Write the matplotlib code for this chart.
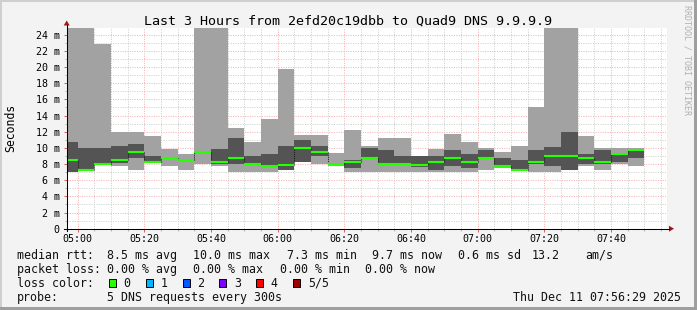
import matplotlib
matplotlib.use("Agg")
import matplotlib.pyplot as plt
from matplotlib.lines import Line2D
from matplotlib.patches import Polygon, Rectangle
from matplotlib.ticker import FixedLocator, MultipleLocator

W, H = 697, 310
MONO = "DejaVu Sans Mono"

TITLE = "Last 3 Hours from 2efd20c19dbb to Quad9 DNS 9.9.9.9"

# 5-minute rounds, each with 5 pings sorted low..high (seconds, in ms units)
ROUND_START = ["04:55", "05:00", "05:05", "05:10", "05:15", "05:20", "05:25",
               "05:30", "05:35", "05:40", "05:45", "05:50", "05:55", "06:00",
               "06:05", "06:10", "06:15", "06:20", "06:25", "06:30", "06:35",
               "06:40", "06:45", "06:50", "06:55", "07:00", "07:05", "07:10",
               "07:15", "07:20", "07:25", "07:30", "07:35", "07:40", "07:45"]
PING_MIN = [7.0, 7.2, 7.95, 7.8, 7.25, 8.1, 7.75, 7.25, 8.05, 7.75, 7.0, 7.0,
            7.0, 7.25, 8.2, 8.0, 7.75, 7.0, 7.0, 7.0, 7.0, 7.0, 7.0, 7.0,
            7.0, 7.25, 7.5, 7.25, 7.0, 7.0, 7.25, 7.75, 7.25, 8.0, 7.75]
PING_LOW = [7.05, 7.25, 7.95, 8.1, 8.8, 8.2, 8.6, 8.4, 9.4, 8.0, 8.0, 7.9,
            7.7, 7.25, 8.25, 9.0, 7.85, 7.5, 8.6, 7.95, 7.95, 7.6, 7.25, 7.75,
            7.5, 8.6, 7.7, 7.25, 8.0, 7.75, 7.25, 8.0, 8.0, 8.25, 8.75]
MEDIAN = [8.5, 7.3, 8.0, 8.5, 9.5, 8.25, 8.75, 8.5, 9.5, 8.25, 8.75, 8.0,
          7.75, 7.9, 10.0, 9.5, 8.0, 8.25, 8.75, 8.0, 8.0, 7.9, 8.25, 8.75,
          8.25, 8.75, 7.75, 7.25, 8.25, 9.0, 9.0, 8.75, 8.25, 9.25, 9.75]
PING_HIGH = [10.7, 10.0, 10.0, 10.2, 10.5, 9.0, 8.9, 8.6, 9.6, 9.85, 11.2, 9.0,
             9.25, 10.2, 10.95, 10.2, 8.1, 8.5, 10.0, 9.75, 9.0, 9.0, 9.0, 9.75,
             9.25, 9.75, 8.75, 8.5, 9.75, 10.1, 11.95, 9.25, 9.75, 9.3, 9.9]
PING_MAX = [26.0, 26.0, 22.85, 12.0, 12.0, 11.5, 9.8, 9.3, 26.0, 26.0, 12.45, 10.7,
            13.55, 19.75, 11.6, 11.6, 9.35, 12.2, 10.25, 11.2, 11.2, 9.0, 9.85, 11.7,
            10.7, 10.0, 9.5, 10.25, 15.0, 26.0, 26.0, 11.5, 10.0, 10.0, 10.0]

X_TICKS = ["05:00", "05:20", "05:40", "06:00", "06:20", "06:40", "07:00", "07:20", "07:40"]
Y_TICKS = [0, 2, 4, 6, 8, 10, 12, 14, 16, 18, 20, 22, 24]
Y_TICK_LABELS = ["0", "2 m", "4 m", "6 m", "8 m", "10 m", "12 m", "14 m",
                 "16 m", "18 m", "20 m", "22 m", "24 m"]

RTT_ROW = ["median rtt:", "8.5 ms avg", "10.0 ms max", "7.3 ms min",
           "9.7 ms now", "0.6 ms sd", "13.2", "am/s"]
LOSS_ROW = ["packet loss:", "0.00 % avg", "0.00 % max", "0.00 % min", "0.00 % now"]
LOSS_LABELS = ["0", "1", "2", "3", "4", "5/5"]
LOSS_COLORS = ["#26ff00", "#00b8ff", "#0059ff", "#7e00ff", "#ff0000", "#a00000"]
PROBE_ROW = ["probe:", "5 DNS requests every 300s"]
STAMP = "Thu Dec 11 07:56:29 2025"

STEP = 5


def minutes(hhmm):
    h, m = hhmm.split(":")
    return int(h) * 60 + int(m) - 300


def fx(x):
    return x / W


def fy(y):
    return 1 - y / H


fig = plt.figure(figsize=(W / 100, H / 100), dpi=100, facecolor="#f3f3f3")

# shaded frame
fig.add_artist(Rectangle((0, 0), fx(2), 1, transform=fig.transFigure, color="#cfcfcf", lw=0))
fig.add_artist(Rectangle((0, fy(2)), 1, 2 / H, transform=fig.transFigure, color="#cfcfcf", lw=0))
fig.add_artist(Rectangle((fx(694), 0), fx(3), 1, transform=fig.transFigure, color="#9e9e9e", lw=0))
fig.add_artist(Rectangle((0, 0), 1, 3 / H, transform=fig.transFigure, color="#9e9e9e", lw=0))

x0, x1 = 66.7, 666.7
y0, y1 = 228.7, 28.0
ax = fig.add_axes([fx(x0), fy(y0), fx(x1 - x0), (y0 - y1) / H])
ax.set_facecolor("white")
ax.set_xlim(-3.3, 176.7)
ax.set_ylim(0, (y0 - y1) / 8.083)
for s in ax.spines.values():
    s.set_visible(False)

starts = [minutes(t) for t in ROUND_START]

# smoke: outer pings light, inner pings dark
ax.bar(starts, [b - a for a, b in zip(PING_MIN, PING_MAX)], bottom=PING_MIN,
       width=STEP, align="edge", color="#a2a2a2", lw=0, antialiased=False, zorder=2)
ax.bar(starts, [b - a for a, b in zip(PING_LOW, PING_HIGH)], bottom=PING_LOW,
       width=STEP, align="edge", color="#545454", lw=0, antialiased=False, zorder=3)

# median: dotted risers + green steps
ax.vlines(starts[1:], MEDIAN[:-1], MEDIAN[1:], colors="#1a1a1a",
          linestyles=(0, (1, 1)), lw=0.75, zorder=4)
ax.hlines(MEDIAN, starts, [s + STEP for s in starts], colors=LOSS_COLORS[0],
          lw=1.5, zorder=5)

ax.xaxis.set_major_locator(FixedLocator([minutes(t) for t in X_TICKS]))
ax.xaxis.set_minor_locator(MultipleLocator(5))
ax.set_xticklabels(X_TICKS)
ax.yaxis.set_major_locator(FixedLocator(Y_TICKS))
ax.yaxis.set_minor_locator(MultipleLocator(1))
ax.set_yticklabels(Y_TICK_LABELS)

ax.set_axisbelow(True)
ax.grid(which="minor", color="#cccccc", linestyle=(0, (1, 1.4)), lw=0.72, zorder=0)
ax.grid(which="major", color="#f4b0b0", linestyle=(0, (1, 1.4)), lw=0.72, zorder=1)
ax.tick_params(which="major", direction="out", length=2.0, width=0.72,
               color="#e06060", labelsize=7.2)
ax.tick_params(which="minor", direction="out", length=1.5, width=0.72, color="#b4b4b4")
ax.tick_params(axis="x", which="major", pad=1.6)
ax.tick_params(axis="y", which="major", pad=3.0)
for lab in ax.get_xticklabels() + ax.get_yticklabels():
    lab.set_fontfamily(MONO)
    lab.set_color("#000000")

# axes with arrow heads
fig.add_artist(Line2D([fx(64), fx(669)], [fy(y0), fy(y0)], color="black", lw=0.75))
fig.add_artist(Line2D([fx(x0), fx(x0)], [fy(231), fy(25)], color="black", lw=0.75))
fig.add_artist(Polygon([(fx(669), fy(225.7)), (fx(669), fy(231.7)), (fx(674), fy(y0))],
                       closed=True, transform=fig.transFigure, color="#a01818", lw=0))
fig.add_artist(Polygon([(fx(63.7), fy(25.5)), (fx(69.7), fy(25.5)), (fx(x0), fy(20.5))],
                       closed=True, transform=fig.transFigure, color="#a01818", lw=0))

fig.text(fx(347.8), fy(25), TITLE, family=MONO, fontsize=9.6, ha="center", va="baseline")
fig.text(fx(10.7), fy(128), "Seconds", family=MONO, fontsize=8.3, rotation=90,
         ha="center", va="center")
fig.text(fx(687.5), fy(60), "RRDTOOL / TOBI OETIKER", family=MONO, fontsize=6.0,
         rotation=270, ha="center", va="center", color="#b0b0b0")

LEG = dict(family=MONO, fontsize=8.4, ha="left", va="baseline", color="#111111")
for x, s in zip([16.7, 107.3, 193.3, 286.7, 372.3, 458.3, 531.7, 585], RTT_ROW):
    fig.text(fx(x), fy(259), s, **LEG)
for x, s in zip([16.7, 107.3, 193.3, 280, 365], LOSS_ROW):
    fig.text(fx(x), fy(273), s, **LEG)
fig.text(fx(16.7), fy(287), "loss color:", **LEG)
for i, (lab, col) in enumerate(zip(LOSS_LABELS, LOSS_COLORS)):
    bx = 108.7 + i * 36.9
    fig.add_artist(Rectangle((fx(bx), fy(286.7)), 7 / W, 7.4 / H, transform=fig.transFigure,
                             facecolor=col, edgecolor="black", lw=0.7))
    fig.text(fx(bx + 14.6), fy(287), lab, **LEG)
for x, s in zip([16.7, 107.3], PROBE_ROW):
    fig.text(fx(x), fy(300.7), s, **LEG)
fig.text(fx(513.3), fy(300.7), STAMP, **LEG)

fig.savefig("out.png", dpi=100, facecolor=fig.get_facecolor())
